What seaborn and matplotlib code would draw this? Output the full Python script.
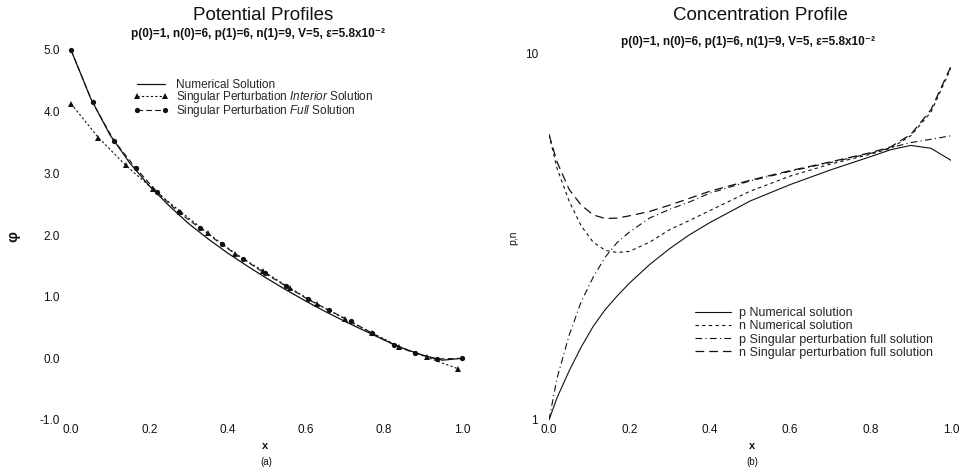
import numpy as np
import pandas as pd
import matplotlib
matplotlib.use("Agg")
import matplotlib.pyplot as plt
import seaborn as sns
from matplotlib.ticker import NullFormatter

# (a) potential profiles
x_num = [0.0, 0.05, 0.1, 0.15, 0.2, 0.25, 0.3, 0.35, 0.4, 0.45, 0.5,
         0.55, 0.6, 0.65, 0.7, 0.75, 0.8, 0.85, 0.9, 0.95, 1.0]
phi_num = [5.0, 4.22, 3.62, 3.17, 2.80, 2.48, 2.19, 1.94, 1.71, 1.50, 1.30,
           1.11, 0.93, 0.76, 0.60, 0.45, 0.30, 0.16, 0.05, -0.03, 0.0]

x_int = [0.0, 0.07, 0.14, 0.21, 0.28, 0.35, 0.42, 0.49, 0.56, 0.63,
         0.70, 0.77, 0.84, 0.91, 0.99]
phi_int = [4.13, 3.58, 3.13, 2.74, 2.38, 2.03, 1.70, 1.42, 1.14, 0.88,
           0.64, 0.41, 0.19, 0.02, -0.17]

x_full = [0.0, 0.055, 0.11, 0.165, 0.22, 0.275, 0.33, 0.385, 0.44, 0.495,
          0.55, 0.605, 0.66, 0.715, 0.77, 0.825, 0.88, 0.935, 1.0]
phi_full = [5.0, 4.15, 3.53, 3.09, 2.70, 2.37, 2.11, 1.85, 1.61, 1.38,
            1.17, 0.96, 0.78, 0.60, 0.41, 0.22, 0.08, -0.01, 0.0]

# (b) concentration profile
x_conc = [0.0, 0.02, 0.05, 0.08, 0.11, 0.14, 0.17, 0.2, 0.25, 0.3,
          0.35, 0.4, 0.5, 0.6, 0.7, 0.8, 0.85, 0.9, 0.95, 1.0]
p_num = [1.0, 1.15, 1.36, 1.58, 1.80, 2.0, 2.18, 2.36, 2.65, 2.93,
         3.2, 3.45, 3.95, 4.38, 4.8, 5.22, 5.45, 5.6, 5.5, 5.1]
n_num = [6.0, 4.85, 3.95, 3.38, 3.05, 2.9, 2.86, 2.88, 3.05, 3.3,
         3.5, 3.72, 4.2, 4.62, 4.98, 5.3, 5.5, 5.95, 6.9, 9.1]
p_full = [1.0, 1.3, 1.7, 2.1, 2.45, 2.78, 3.05, 3.25, 3.55, 3.75,
          3.93, 4.15, 4.48, 4.76, 5.03, 5.33, 5.52, 5.7, 5.82, 5.95]
n_full = [6.0, 5.05, 4.25, 3.85, 3.62, 3.54, 3.55, 3.6, 3.7, 3.85,
          4.02, 4.2, 4.5, 4.78, 5.05, 5.35, 5.55, 6.0, 7.0, 9.2]

sns.set_style("white")
plt.rcParams['font.family'] = ['Liberation Sans', 'DejaVu Sans']
plt.rcParams['mathtext.fontset'] = 'custom'
plt.rcParams['mathtext.rm'] = 'Liberation Sans'
plt.rcParams['mathtext.it'] = 'Liberation Sans:italic'

W, H = 966, 471
fig = plt.figure(figsize=(W / 100, H / 100), dpi=100)
ax1 = fig.add_axes([71 / W, 1 - 420 / H, 391 / W, 370 / H])
ax2 = fig.add_axes([549 / W, 1 - 420 / H, 402 / W, 367 / H])
ink = "#111111"

# left panel
sns.lineplot(x=x_num, y=phi_num, ax=ax1, color=ink, lw=0.9, sort=False,
             estimator=None, label="Numerical Solution")
sns.lineplot(x=x_int, y=phi_int, ax=ax1, color=ink, lw=0.8, sort=False,
             estimator=None, linestyle=(0, (2, 2)), marker="^", markersize=4.5,
             markeredgewidth=0, label="Singular Perturbation $\\it{Interior}$ Solution")
sns.lineplot(x=x_full, y=phi_full, ax=ax1, color=ink, lw=0.8, sort=False,
             estimator=None, linestyle=(0, (5, 3)), marker="o", markersize=3.8,
             markeredgewidth=0, label="Singular Perturbation $\\it{Full}$ Solution")
for ln in ax1.lines:
    ln.set_clip_on(False)
ax1.set_xlim(0, 1)
ax1.set_ylim(-1, 5)
ax1.set_xticks([0, 0.2, 0.4, 0.6, 0.8, 1.0])
ax1.set_xticklabels(["0.0", "0.2", "0.4", "0.6", "0.8", "1.0"])
ax1.set_yticks([-1, 0, 1, 2, 3, 4, 5])
ax1.set_yticklabels(["-1.0", "0.0", "1.0", "2.0", "3.0", "4.0", "5.0"])
ax1.set_xlabel("")
ax1.set_ylabel("")
ax1.legend(loc="upper left", bbox_to_anchor=(133 / W, 1 - 79 / H),
           bbox_transform=fig.transFigure, frameon=False, fontsize=8.5,
           borderpad=0, borderaxespad=0, handlelength=3.0, handletextpad=0.6,
           labelspacing=-0.15, numpoints=2)

# right panel
sns.lineplot(x=x_conc, y=p_num, ax=ax2, color=ink, lw=0.8, sort=False,
             estimator=None, label="p Numerical solution")
sns.lineplot(x=x_conc, y=n_num, ax=ax2, color=ink, lw=0.8, sort=False,
             estimator=None, linestyle=(0, (3, 3)), label="n Numerical solution")
sns.lineplot(x=x_conc, y=p_full, ax=ax2, color=ink, lw=0.8, sort=False,
             estimator=None, linestyle=(0, (6, 3, 1, 3)),
             label="p Singular perturbation full solution")
sns.lineplot(x=x_conc, y=n_full, ax=ax2, color=ink, lw=0.9, sort=False,
             estimator=None, linestyle=(0, (7, 4)),
             label="n Singular perturbation full solution")
ax2.set_yscale("log")
ax2.set_xlim(0, 1)
ax2.set_ylim(1, 10)
ax2.set_xticks([0, 0.2, 0.4, 0.6, 0.8, 1.0])
ax2.set_xticklabels(["0.0", "0.2", "0.4", "0.6", "0.8", "1.0"])
ax2.set_yticks([1, 10])
ax2.set_yticklabels(["1", "10"])
ax2.yaxis.set_minor_formatter(NullFormatter())
ax2.set_xlabel("")
ax2.set_ylabel("")
ax2.legend(loc="upper left", bbox_to_anchor=(695 / W, 1 - 307 / H),
           bbox_transform=fig.transFigure, frameon=False, fontsize=9,
           borderpad=0, borderaxespad=0, handlelength=2.9, handletextpad=0.6,
           labelspacing=0.1)

for ax in (ax1, ax2):
    sns.despine(ax=ax, left=True, bottom=True)
    ax.tick_params(axis="both", which="both", length=0, labelsize=8.5,
                   colors=ink)
    ax.tick_params(axis="y", pad=8)
    ax.tick_params(axis="x", pad=3)

# titles and labels
sub = "p(0)=1, n(0)=6, p(1)=6, n(1)=9, V=5, ε=5.8x10⁻²"
fig.text(263 / W, 1 - 15 / H, "Potential Profiles", ha="center", va="center",
         fontsize=13.5, color=ink)
fig.text(258 / W, 1 - 34 / H, sub, ha="center", va="center", fontsize=8.5,
         fontweight="bold", color=ink)
fig.text(760 / W, 1 - 15 / H, "Concentration Profile", ha="center", va="center",
         fontsize=13.5, color=ink)
fig.text(748 / W, 1 - 42 / H, sub, ha="center", va="center", fontsize=8.5,
         fontweight="bold", color=ink)
fig.text(265 / W, 1 - 446 / H, "x", ha="center", va="center", fontsize=8,
         fontweight="bold", color=ink)
fig.text(266 / W, 1 - 462 / H, "(a)", ha="center", va="center", fontsize=7, color=ink)
fig.text(752 / W, 1 - 446 / H, "x", ha="center", va="center", fontsize=8,
         fontweight="bold", color=ink)
fig.text(752 / W, 1 - 462 / H, "(b)", ha="center", va="center", fontsize=7, color=ink)
fig.text(13 / W, 1 - 236 / H, "φ", ha="center", va="center", fontsize=11,
         fontweight="bold", rotation=90, color=ink)
fig.text(513 / W, 1 - 238 / H, "p,n", ha="center", va="center", fontsize=7.5,
         rotation=90, color=ink)

fig.savefig("out.png", dpi=100)
